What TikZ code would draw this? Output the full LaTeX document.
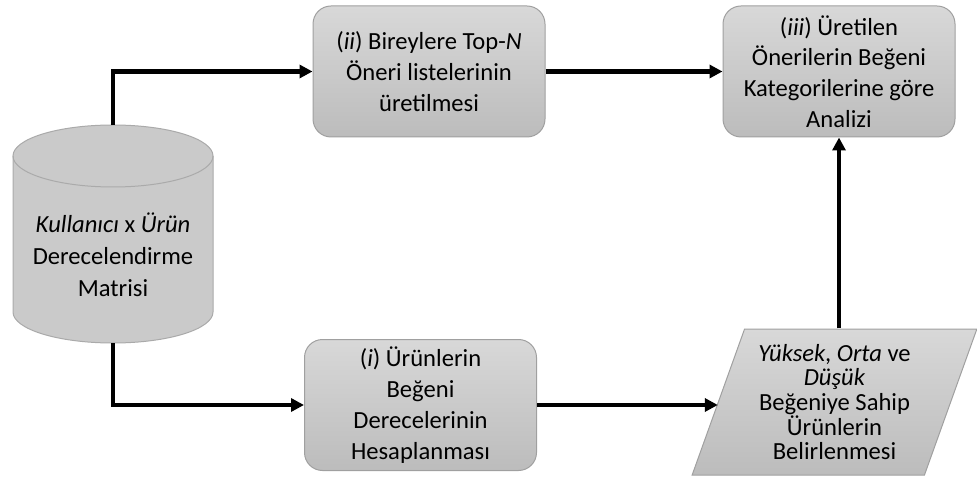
\documentclass[tikz,border=0pt]{standalone}
\usepackage{fontspec}
\setmainfont{Carlito}
\definecolor{BoxTop}{RGB}{216,216,216}
\definecolor{BoxBottom}{RGB}{188,188,188}
\definecolor{BoxEdge}{RGB}{160,160,160}
\definecolor{DbFill}{RGB}{202,202,202}
\definecolor{DbEdge}{RGB}{170,170,170}
\usetikzlibrary{arrows.meta,shapes.geometric}

\begin{document}
\begin{tikzpicture}[
    x=0.5pt, y=0.5pt,
    font=\fontsize{12.3}{15.4}\selectfont,
    procbox/.style={draw=BoxEdge, line width=0.5pt, rounded corners=9pt,
                    top color=BoxTop, bottom color=BoxBottom, align=center,
                    minimum width=116pt, minimum height=65.5pt, inner sep=2pt},
    iobox/.style={trapezium, trapezium left angle=69, trapezium right angle=111,
                  trapezium stretches=true, draw=BoxEdge, line width=0.5pt,
                  top color=BoxTop, bottom color=BoxBottom, align=center,
                  minimum width=142.5pt, minimum height=73pt, inner sep=0pt,
                  font=\fontsize{12.3}{12.3}\selectfont},
    dbedge/.style={draw=DbEdge, line width=0.5pt},
    flow/.style={-{Triangle[length=6.5pt,width=6.5pt]}, line width=2.3pt}
  ]
  \useasboundingbox (0,0) rectangle (977,487);
  % rating matrix (cylinder)
  \fill[DbFill] (13,331) -- (13,175)
     arc[start angle=180, end angle=360, x radius=50pt, y radius=15.5pt]
     -- (213,331)
     arc[start angle=0, end angle=180, x radius=50pt, y radius=15.5pt] -- cycle;
  \draw[dbedge] (13,331) -- (13,175)
     arc[start angle=180, end angle=360, x radius=50pt, y radius=15.5pt]
     -- (213,331);
  \draw[dbedge] (113,331) ellipse[x radius=50pt, y radius=15.5pt];
  \node[minimum width=100pt, minimum height=109pt, inner sep=0pt] (db) at (113,253) {};
  \node[align=center, font=\fontsize{12.3}{16}\selectfont] (dbtext) at (113,232)
     {\textit{Kullanıcı} x \textit{Ürün}\\Derecelendirme\\Matrisi};
  % steps
  \node[procbox] (gen) at (429,415.5)
     {(\textit{ii}) Bireylere Top-\textit{N}\\Öneri listelerinin\\üretilmesi};
  \node[procbox] (ana) at (839,415.5)
     {(\textit{iii}) Üretilen\\Önerilerin Beğeni\\Kategorilerine göre\\Analizi};
  \node[procbox] (deg) at (420.5,82)
     {(\textit{i}) Ürünlerin\\Beğeni\\Derecelerinin\\Hesaplanması};
  \node[iobox] (kat) at (834.5,85)
     {\textit{Yüksek}, \textit{Orta} ve\\\textit{Düşük}\\Beğeniye Sahip\\Ürünlerin\\Belirlenmesi};
  % connectors
  \draw[flow] (db.north) |- (gen.west);
  \draw[flow] (db.south) |- (deg.west);
  \draw[flow] (gen) -- (ana);
  \draw[flow] (deg.east) -- (deg.east -| kat.west);
  \draw[flow] (kat.north -| ana.south) -- (ana.south);
\end{tikzpicture}
\end{document}
